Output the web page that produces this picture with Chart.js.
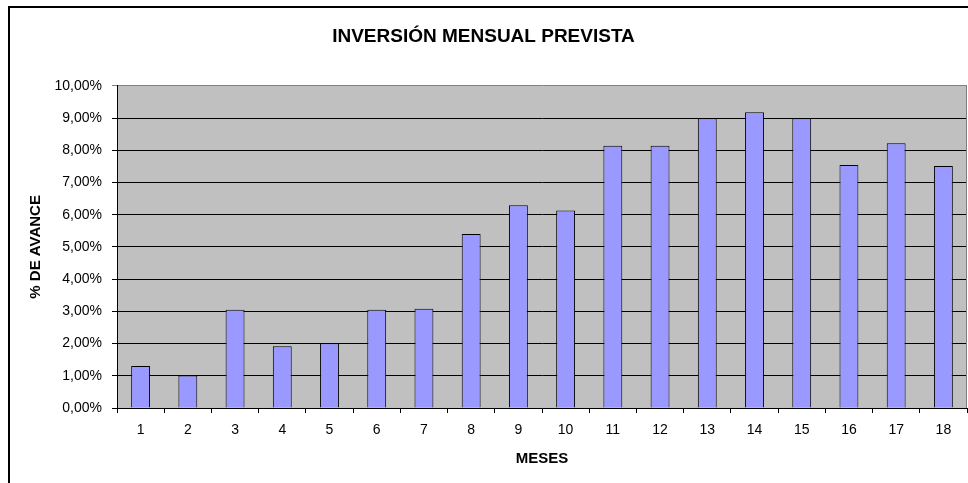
<!DOCTYPE html>
<html>
<head>
<meta charset="utf-8">
<script src="https://cdn.jsdelivr.net/npm/chart.js@4"></script>
<style>
  body { margin: 0; background: #fff; }
</style>
</head>
<body>
<canvas id="grafico" width="968" height="483"></canvas>
<script>
// datos del gráfico
const meses = ['1', '2', '3', '4', '5', '6', '7', '8', '9', '10', '11', '12', '13', '14', '15', '16', '17', '18'];
const avance = [1.30, 1.01, 3.05, 1.92, 2.01, 3.05, 3.08, 5.40, 6.29, 6.13, 8.14, 8.14, 8.99, 9.18, 8.99, 7.54, 8.22, 7.51];
const yTicks = [0, 1, 2, 3, 4, 5, 6, 7, 8, 9, 10];

const fuente = '"Liberation Sans", Arial, sans-serif';

// fondo gris del área de trazado y marco exterior
const fondoPlugin = {
    id: 'fondo',
    beforeDraw(chart) {
        const { ctx, chartArea: a } = chart;
        ctx.save();
        ctx.fillStyle = '#C0C0C0';
        ctx.fillRect(a.left, a.top, a.right - a.left, a.bottom - a.top);
        ctx.restore();
    },
    afterDraw(chart) {
        const { ctx, chartArea: a } = chart;
        ctx.save();
        // borde derecho del área
        ctx.strokeStyle = '#808080';
        ctx.lineWidth = 1;
        ctx.beginPath();
        ctx.moveTo(a.right - 0.5, a.top);
        ctx.lineTo(a.right - 0.5, a.bottom);
        ctx.stroke();
        // marco del gráfico
        ctx.strokeStyle = '#000';
        ctx.lineWidth = 2;
        ctx.strokeRect(9, 7, 1000, 520);
        ctx.restore();
    }
};

const ctx = document.getElementById('grafico').getContext('2d');
new Chart(ctx, {
    type: 'bar',
    data: {
        labels: meses,
        datasets: [{
            label: '% de avance',
            data: avance,
            backgroundColor: '#9999FF',
            borderColor: '#000',
            borderWidth: 1,
            barPercentage: 0.4,
            categoryPercentage: 1.0
        }]
    },
    options: {
        responsive: false,
        animation: false,
        devicePixelRatio: 1,
        layout: {
            padding: { left: 0, right: 1, top: 0, bottom: 0 }
        },
        plugins: {
            legend: { display: false },
            tooltip: { enabled: false },
            title: {
                display: true,
                text: 'INVERSIÓN MENSUAL PREVISTA',
                color: '#000',
                font: { family: fuente, size: 19, weight: 'bold', lineHeight: 1.2 },
                padding: { top: 25, bottom: 38 }
            }
        },
        scales: {
            x: {
                afterFit: s => { s.height = 75; },
                grid: {
                    offset: true,
                    drawOnChartArea: false,
                    drawTicks: true,
                    tickLength: 5,
                    color: '#000'
                },
                border: { color: '#000', width: 1 },
                ticks: {
                    color: '#000',
                    padding: 9,
                    maxRotation: 0,
                    font: { family: fuente, size: 14 }
                },
                title: {
                    display: true,
                    text: 'MESES',
                    color: '#000',
                    font: { family: fuente, size: 15, weight: 'bold', lineHeight: 1.2 },
                    padding: { top: 0, bottom: 15 }
                }
            },
            y: {
                min: 0,
                max: 10,
                afterFit: s => { s.width = 117; },
                afterBuildTicks: s => { s.ticks = yTicks.map(v => ({ value: v })); },
                grid: {
                    color: c => (c.tick && c.tick.value === 10 ? '#808080' : '#000'),
                    lineWidth: 1,
                    drawTicks: true,
                    tickLength: 5
                },
                border: { color: '#000', width: 1 },
                ticks: {
                    color: '#000',
                    padding: 10,
                    font: { family: fuente, size: 14 },
                    callback: v => v.toFixed(2).replace('.', ',') + '%'
                },
                title: {
                    display: true,
                    text: '% DE AVANCE',
                    color: '#000',
                    font: { family: fuente, size: 15, weight: 'bold', lineHeight: 1.2 },
                    padding: { top: 27, bottom: 0 }
                }
            }
        }
    },
    plugins: [fondoPlugin]
});
</script>
</body>
</html>
